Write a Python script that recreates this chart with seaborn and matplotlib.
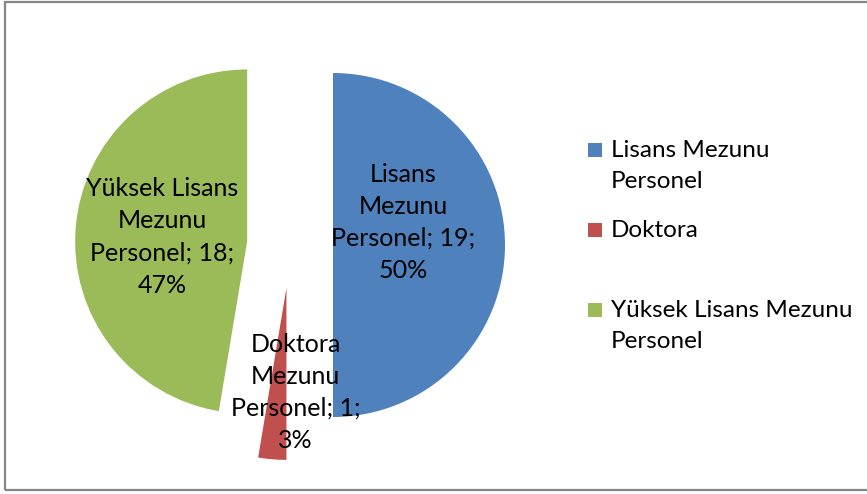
import matplotlib
matplotlib.use('Agg')
import matplotlib.pyplot as plt
from matplotlib.patches import Rectangle
import numpy as np
import seaborn as sns

# Veri
dilim_etiket = ['Lisans\nMezunu\nPersonel', 'Doktora\nMezunu\nPersonel', 'Yüksek Lisans\nMezunu\nPersonel']
legend_etiket = ['Lisans Mezunu\nPersonel', 'Doktora', 'Yüksek Lisans Mezunu\nPersonel']
sayilar = [19, 1, 18]
yuzdeler = [50, 3, 47]
renkler = ['#4F81BD', '#C0504D', '#9BBB59']

sns.set_theme(style='white')
plt.rcParams['font.family'] = ['Lato', 'DejaVu Sans']

W, H = 867, 494
fig = plt.figure(figsize=(W / 100, H / 100), dpi=100)

# grafik cercevesi
fig.patches.append(Rectangle((4.5 / W, 1 - 490 / H), 1.0, (490 - 2) / H,
                             transform=fig.transFigure, fill=False,
                             edgecolor='#868686', linewidth=1.6))

ax = fig.add_axes([20 / W, 1 - 480 / H, 540 / W, 470 / H])
etiketler = [f'{k}; {s};\n{p}%' for k, s, p in zip(dilim_etiket, sayilar, yuzdeler)]

wedges, texts = ax.pie(sayilar, explode=[0.25, 0.25, 0.25], colors=renkler,
                       startangle=90, counterclock=False, labels=etiketler,
                       labeldistance=0.5,
                       wedgeprops=dict(linewidth=0),
                       textprops=dict(fontsize=18, color='black', ha='center',
                                      va='center', linespacing=1.48))
ax.set_xlim(-270 / 172, 270 / 172)
ax.set_ylim(-235 / 172, 235 / 172)

# etiket konumlari (dilim merkezine gore)
etiket_r = [0.43, 0.61, 0.495]
etiket_aci = [17.8, -85, 177]
for w, t, r, a in zip(wedges, texts, etiket_r, etiket_aci):
    cx, cy = w.center
    t.set_position((cx + r * np.cos(np.radians(a)), cy + r * np.sin(np.radians(a))))
    t.set_horizontalalignment('center')
    t.set_multialignment('center')

# legend
leg_y = [150, 230, 310]
for renk, etiket, y in zip(renkler, legend_etiket, leg_y):
    fig.patches.append(Rectangle((588 / W, 1 - (y + 7) / H), 14 / W, 14 / H,
                                 transform=fig.transFigure, facecolor=renk,
                                 edgecolor='none'))
    fig.text(611 / W, 1 - (y - 10) / H, etiket, fontsize=17.5, ha='left', va='top',
             linespacing=1.58, color='black')

plt.savefig('out.png', dpi=100)
